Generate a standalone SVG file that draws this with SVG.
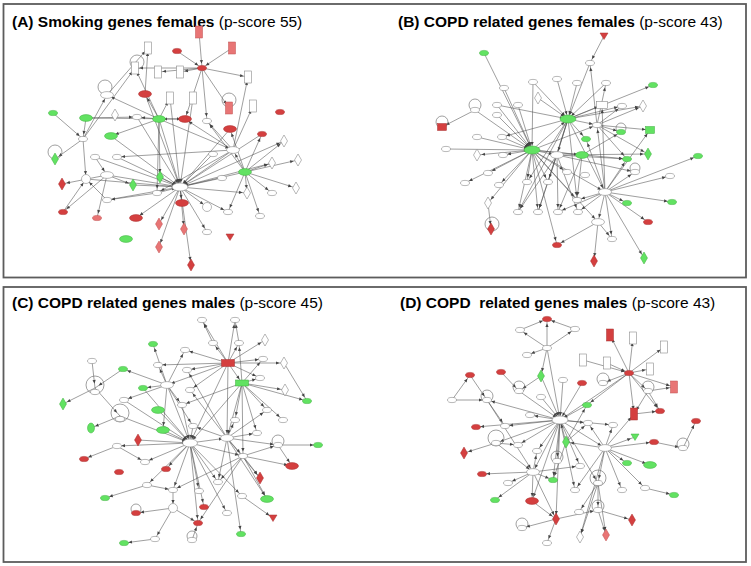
<svg xmlns="http://www.w3.org/2000/svg" xmlns:xlink="http://www.w3.org/1999/xlink" width="751" height="566" viewBox="0 0 751 566">
<style>
.frame{fill:#fff;stroke:#5c5c5c;stroke-width:1.8}
.t{font-family:"Liberation Sans",Arial,sans-serif;font-size:15.5px;fill:#000}
.b{font-weight:bold}
.w{fill:#fff;stroke:#8a8a8a;stroke-width:.6}
.g{fill:#62e262;stroke:#3fae3f;stroke-width:.5}
.r{fill:#d43f3f;stroke:#a83030;stroke-width:.5}
.p{fill:#e87575;stroke:#c05050;stroke-width:.5}
.lp{fill:none;stroke:#777;stroke-width:.7}
.e line{stroke:#4e4e4e;stroke-width:.55;marker-end:url(#ah)}
</style>
<defs>
<marker id="ah" markerUnits="userSpaceOnUse" markerWidth="4" markerHeight="4" refX="8" refY="1.6" orient="auto" overflow="visible"><path d="M0,0L3.5,1.6L0,3.2Z" fill="#444"/></marker>
<ellipse id="E" rx="6.5" ry="3.4"/>
<ellipse id="S" rx="4.5" ry="2.6"/>
<rect id="R" x="-3.5" y="-6" width="7" height="12"/>
<path id="D" d="M0,-6L3.5,0L0,6L-3.5,0Z"/>
<path id="T" d="M-4,-3H4L0,3.5Z"/>
<circle id="C" r="4.5"/>
</defs>
<rect width="751" height="566" fill="#fff"/>
<rect class="frame" x="3.5" y="4" width="742.5" height="273.5"/>
<rect class="frame" x="3.5" y="287" width="742.5" height="275"/>
<text class="t" x="12" y="27"><tspan class="b">(A) Smoking genes females</tspan> (p-score 55)</text>
<text class="t" x="398" y="27"><tspan class="b">(B) COPD related genes females</tspan> (p-score 43)</text>
<text class="t" x="12" y="308"><tspan class="b">(C) COPD related genes males</tspan> (p-score 45)</text>
<text class="t" x="400" y="308" xml:space="preserve"><tspan class="b">(D) COPD  related genes males</tspan> (p-score 43)</text>

<g id="connectors" class="e">
<!-- Panel A -->
<line x1="159" y1="119" x2="180" y2="187"/><line x1="145" y1="94" x2="180" y2="187"/><line x1="170" y1="98" x2="180" y2="187"/><line x1="193" y1="98" x2="180" y2="187"/><line x1="137" y1="117" x2="180" y2="187"/><line x1="107" y1="175" x2="180" y2="187"/><line x1="86" y1="179" x2="180" y2="187"/><line x1="133" y1="185" x2="180" y2="187"/><line x1="160" y1="177" x2="180" y2="187"/><line x1="157" y1="193" x2="180" y2="187"/><line x1="180" y1="187" x2="182" y2="203"/><line x1="180" y1="187" x2="207" y2="207"/><line x1="180" y1="187" x2="136" y2="218"/><line x1="180" y1="187" x2="159" y2="224"/><line x1="180" y1="187" x2="184" y2="229"/><line x1="180" y1="187" x2="159" y2="247"/><line x1="180" y1="187" x2="191" y2="265"/><line x1="180" y1="187" x2="207" y2="232"/><line x1="180" y1="187" x2="228" y2="212"/><line x1="245" y1="172" x2="180" y2="187"/><line x1="233" y1="150" x2="180" y2="187"/><line x1="222" y1="178" x2="180" y2="187"/><line x1="213" y1="154" x2="180" y2="187"/><line x1="117" y1="157" x2="180" y2="187"/><line x1="107" y1="200" x2="180" y2="187"/><line x1="180" y1="187" x2="284" y2="141"/><line x1="180" y1="187" x2="272" y2="163"/><line x1="180" y1="187" x2="247" y2="193"/><line x1="262" y1="134" x2="180" y2="187"/><line x1="230" y1="129" x2="180" y2="187"/><line x1="111" y1="136" x2="180" y2="187"/><line x1="95" y1="157" x2="180" y2="187"/>
<line x1="199" y1="32" x2="202" y2="68"/><line x1="232" y1="48" x2="202" y2="68"/><line x1="177" y1="51" x2="202" y2="68"/><line x1="202" y1="68" x2="135" y2="68"/><line x1="202" y1="68" x2="158" y2="72"/><line x1="202" y1="68" x2="180" y2="72"/><line x1="202" y1="68" x2="248" y2="77"/><line x1="202" y1="68" x2="229" y2="108"/><line x1="202" y1="68" x2="185" y2="119"/><line x1="202" y1="68" x2="207" y2="121"/>
<line x1="159" y1="119" x2="145" y2="94"/><line x1="159" y1="119" x2="137" y2="117"/><line x1="159" y1="119" x2="170" y2="98"/><line x1="159" y1="119" x2="135" y2="68"/><line x1="159" y1="119" x2="107" y2="95"/><line x1="185" y1="119" x2="159" y2="119"/><line x1="159" y1="119" x2="160" y2="177"/><line x1="159" y1="119" x2="157" y2="193"/><line x1="159" y1="119" x2="233" y2="150"/><line x1="159" y1="119" x2="111" y2="136"/>
<line x1="245" y1="172" x2="233" y2="150"/><line x1="245" y1="172" x2="262" y2="134"/><line x1="245" y1="172" x2="284" y2="141"/><line x1="245" y1="172" x2="272" y2="163"/><line x1="245" y1="172" x2="298" y2="160"/><line x1="245" y1="172" x2="296" y2="188"/><line x1="245" y1="172" x2="272" y2="193"/><line x1="245" y1="172" x2="260" y2="216"/><line x1="245" y1="172" x2="247" y2="193"/><line x1="245" y1="172" x2="228" y2="212"/><line x1="245" y1="172" x2="230" y2="129"/><line x1="245" y1="172" x2="207" y2="121"/>
<line x1="83" y1="139" x2="107" y2="95"/><line x1="83" y1="139" x2="135" y2="68"/><line x1="83" y1="139" x2="55" y2="159"/><line x1="83" y1="139" x2="86" y2="179"/><line x1="53" y1="113" x2="83" y2="139"/>
<line x1="107" y1="175" x2="62" y2="184"/><line x1="107" y1="175" x2="63" y2="212"/><line x1="107" y1="175" x2="97" y2="218"/><line x1="95" y1="157" x2="107" y2="175"/><line x1="107" y1="175" x2="133" y2="185"/>
<line x1="233" y1="150" x2="253" y2="106"/><line x1="233" y1="150" x2="248" y2="77"/><line x1="233" y1="150" x2="207" y2="121"/><line x1="233" y1="150" x2="185" y2="119"/><line x1="233" y1="150" x2="157" y2="193"/><line x1="233" y1="150" x2="117" y2="157"/>
<line x1="107" y1="95" x2="148" y2="48"/><line x1="145" y1="94" x2="148" y2="48"/><line x1="86" y1="118" x2="83" y2="139"/><line x1="86" y1="118" x2="137" y2="117"/><line x1="86" y1="118" x2="185" y2="119"/><line x1="157" y1="193" x2="107" y2="200"/><line x1="107" y1="200" x2="86" y2="179"/><line x1="63" y1="212" x2="86" y2="179"/>
<!-- Panel B -->
<line x1="484" y1="53" x2="532" y2="150"/><line x1="504" y1="88" x2="532" y2="150"/><line x1="533" y1="82" x2="532" y2="150"/><line x1="497" y1="105" x2="532" y2="150"/><line x1="518" y1="105" x2="532" y2="150"/><line x1="475" y1="110" x2="532" y2="150"/><line x1="497" y1="115" x2="532" y2="150"/><line x1="502" y1="137" x2="532" y2="150"/><line x1="477" y1="137" x2="532" y2="150"/><line x1="446" y1="149" x2="532" y2="150"/><line x1="532" y1="150" x2="477" y2="155"/><line x1="532" y1="150" x2="503" y2="155"/><line x1="532" y1="150" x2="465" y2="183"/><line x1="532" y1="150" x2="488" y2="173"/><line x1="532" y1="150" x2="499" y2="185"/><line x1="532" y1="150" x2="488" y2="203"/><line x1="532" y1="150" x2="518" y2="212"/><line x1="532" y1="150" x2="538" y2="212"/><line x1="532" y1="150" x2="527" y2="182"/><line x1="532" y1="150" x2="548" y2="182"/><line x1="532" y1="150" x2="567" y2="172"/><line x1="532" y1="150" x2="557" y2="155"/><line x1="532" y1="150" x2="582" y2="155"/><line x1="532" y1="150" x2="605" y2="192"/><line x1="532" y1="150" x2="598" y2="222"/><line x1="532" y1="150" x2="577" y2="200"/><line x1="532" y1="150" x2="557" y2="245"/><line x1="532" y1="150" x2="568" y2="119"/><line x1="532" y1="150" x2="597" y2="125"/><line x1="532" y1="150" x2="627" y2="159"/>
<line x1="533" y1="82" x2="568" y2="119"/><line x1="557" y1="79" x2="568" y2="119"/><line x1="577" y1="83" x2="568" y2="119"/><line x1="606" y1="83" x2="568" y2="119"/><line x1="590" y1="63" x2="568" y2="119"/><line x1="538" y1="98" x2="568" y2="119"/><line x1="568" y1="119" x2="602" y2="105"/><line x1="568" y1="119" x2="622" y2="106"/><line x1="568" y1="119" x2="643" y2="106"/><line x1="568" y1="119" x2="653" y2="85"/><line x1="568" y1="119" x2="597" y2="125"/><line x1="568" y1="119" x2="586" y2="139"/><line x1="568" y1="119" x2="557" y2="155"/><line x1="568" y1="119" x2="548" y2="182"/><line x1="568" y1="119" x2="538" y2="212"/><line x1="568" y1="119" x2="577" y2="200"/><line x1="568" y1="119" x2="605" y2="192"/><line x1="568" y1="119" x2="518" y2="212"/><line x1="568" y1="119" x2="527" y2="182"/><line x1="568" y1="119" x2="502" y2="137"/><line x1="497" y1="105" x2="568" y2="119"/>
<line x1="605" y1="192" x2="698" y2="156"/><line x1="605" y1="192" x2="670" y2="176"/><line x1="605" y1="192" x2="672" y2="202"/><line x1="605" y1="192" x2="627" y2="203"/><line x1="605" y1="192" x2="648" y2="222"/><line x1="605" y1="192" x2="612" y2="239"/><line x1="605" y1="192" x2="644" y2="258"/><line x1="605" y1="192" x2="598" y2="222"/><line x1="605" y1="192" x2="577" y2="200"/><line x1="605" y1="192" x2="558" y2="212"/><line x1="605" y1="192" x2="578" y2="212"/><line x1="605" y1="192" x2="597" y2="125"/><line x1="605" y1="192" x2="602" y2="105"/><line x1="605" y1="192" x2="586" y2="139"/><line x1="605" y1="192" x2="635" y2="172"/><line x1="605" y1="192" x2="627" y2="159"/><line x1="605" y1="192" x2="650" y2="130"/>
<line x1="597" y1="125" x2="621" y2="132"/><line x1="597" y1="125" x2="650" y2="130"/><line x1="597" y1="125" x2="643" y2="106"/><line x1="597" y1="125" x2="622" y2="106"/><line x1="597" y1="125" x2="627" y2="159"/><line x1="597" y1="125" x2="648" y2="154"/><line x1="597" y1="125" x2="606" y2="83"/><line x1="597" y1="125" x2="590" y2="63"/>
<line x1="604" y1="36" x2="590" y2="63"/><line x1="475" y1="110" x2="442" y2="127"/><line x1="488" y1="203" x2="491" y2="229"/><line x1="598" y1="222" x2="594" y2="261"/><line x1="598" y1="222" x2="557" y2="245"/><line x1="598" y1="222" x2="612" y2="239"/>
<line x1="557" y1="155" x2="518" y2="212"/><line x1="557" y1="155" x2="538" y2="212"/><line x1="557" y1="155" x2="558" y2="212"/><line x1="557" y1="155" x2="578" y2="212"/><line x1="557" y1="155" x2="627" y2="159"/><line x1="557" y1="155" x2="648" y2="154"/><line x1="557" y1="155" x2="635" y2="172"/><line x1="582" y1="155" x2="621" y2="132"/><line x1="582" y1="155" x2="577" y2="200"/><line x1="582" y1="155" x2="558" y2="212"/>
<!-- Panel C -->
<line x1="228" y1="363" x2="202" y2="320"/><line x1="228" y1="363" x2="235" y2="320"/><line x1="228" y1="363" x2="213" y2="343"/><line x1="228" y1="363" x2="239" y2="343"/><line x1="228" y1="363" x2="263" y2="359"/><line x1="228" y1="363" x2="265" y2="340"/><line x1="228" y1="363" x2="284" y2="363"/><line x1="228" y1="363" x2="185" y2="350"/><line x1="228" y1="363" x2="187" y2="370"/><line x1="228" y1="363" x2="190" y2="390"/><line x1="228" y1="363" x2="242" y2="383"/><line x1="228" y1="363" x2="227" y2="438"/><line x1="228" y1="363" x2="190" y2="443"/><line x1="228" y1="363" x2="167" y2="385"/><line x1="228" y1="363" x2="260" y2="378"/><line x1="228" y1="363" x2="158" y2="365"/>
<line x1="242" y1="383" x2="260" y2="378"/><line x1="242" y1="383" x2="285" y2="390"/><line x1="242" y1="383" x2="307" y2="401"/><line x1="242" y1="383" x2="267" y2="410"/><line x1="242" y1="383" x2="283" y2="420"/><line x1="242" y1="383" x2="257" y2="433"/><line x1="242" y1="383" x2="235" y2="420"/><line x1="242" y1="383" x2="227" y2="438"/><line x1="242" y1="383" x2="190" y2="443"/><line x1="242" y1="383" x2="182" y2="405"/><line x1="242" y1="383" x2="263" y2="359"/><line x1="242" y1="383" x2="239" y2="343"/><line x1="242" y1="383" x2="243" y2="456"/>
<line x1="158" y1="410" x2="190" y2="443"/><line x1="163" y1="430" x2="190" y2="443"/><line x1="143" y1="388" x2="190" y2="443"/><line x1="167" y1="385" x2="190" y2="443"/><line x1="124" y1="400" x2="190" y2="443"/><line x1="190" y1="443" x2="117" y2="446"/><line x1="190" y1="443" x2="145" y2="462"/><line x1="190" y1="443" x2="147" y2="485"/><line x1="190" y1="443" x2="166" y2="469"/><line x1="190" y1="443" x2="173" y2="490"/><line x1="190" y1="443" x2="199" y2="491"/><line x1="190" y1="443" x2="204" y2="507"/><line x1="190" y1="443" x2="198" y2="523"/><line x1="190" y1="443" x2="227" y2="513"/><line x1="190" y1="443" x2="218" y2="482"/><line x1="190" y1="443" x2="242" y2="496"/><line x1="190" y1="443" x2="227" y2="438"/><line x1="190" y1="443" x2="243" y2="456"/><line x1="120" y1="416" x2="190" y2="443"/><line x1="138" y1="440" x2="190" y2="443"/><line x1="182" y1="405" x2="190" y2="443"/><line x1="193" y1="426" x2="190" y2="443"/>
<line x1="227" y1="438" x2="257" y2="433"/><line x1="227" y1="438" x2="267" y2="410"/><line x1="227" y1="438" x2="278" y2="445"/><line x1="227" y1="438" x2="235" y2="420"/><line x1="227" y1="438" x2="243" y2="456"/><line x1="227" y1="438" x2="193" y2="426"/><line x1="227" y1="438" x2="218" y2="482"/><line x1="227" y1="438" x2="241" y2="534"/><line x1="227" y1="438" x2="267" y2="499"/><line x1="227" y1="438" x2="260" y2="478"/><line x1="227" y1="438" x2="187" y2="370"/><line x1="227" y1="438" x2="190" y2="390"/>
<line x1="243" y1="456" x2="278" y2="445"/><line x1="243" y1="456" x2="292" y2="466"/><line x1="243" y1="456" x2="260" y2="478"/><line x1="243" y1="456" x2="267" y2="499"/><line x1="243" y1="456" x2="218" y2="482"/><line x1="243" y1="456" x2="198" y2="523"/><line x1="243" y1="456" x2="173" y2="490"/>
<line x1="167" y1="385" x2="143" y2="388"/><line x1="167" y1="385" x2="123" y2="369"/><line x1="167" y1="385" x2="153" y2="344"/><line x1="167" y1="385" x2="158" y2="365"/><line x1="167" y1="385" x2="124" y2="400"/><line x1="167" y1="385" x2="185" y2="350"/><line x1="167" y1="385" x2="182" y2="405"/><line x1="167" y1="385" x2="193" y2="426"/><line x1="167" y1="385" x2="163" y2="430"/>
<line x1="92" y1="361" x2="95" y2="388"/><line x1="123" y1="369" x2="95" y2="388"/><line x1="95" y1="388" x2="63" y2="404"/><line x1="95" y1="388" x2="120" y2="416"/><line x1="120" y1="416" x2="91" y2="428"/><line x1="117" y1="446" x2="84" y2="459"/><line x1="117" y1="446" x2="145" y2="462"/><line x1="147" y1="485" x2="105" y2="498"/><line x1="147" y1="485" x2="173" y2="490"/><line x1="173" y1="508" x2="136" y2="513"/><line x1="173" y1="508" x2="155" y2="539"/><line x1="173" y1="508" x2="198" y2="523"/><line x1="173" y1="490" x2="173" y2="508"/><line x1="192" y1="540" x2="198" y2="523"/><line x1="155" y1="539" x2="124" y2="543"/><line x1="278" y1="445" x2="318" y2="445"/><line x1="278" y1="445" x2="292" y2="466"/><line x1="242" y1="496" x2="273" y2="518"/><line x1="213" y1="343" x2="202" y2="320"/><line x1="239" y1="343" x2="235" y2="320"/><line x1="284" y1="363" x2="307" y2="401"/>
<!-- Panel D -->
<line x1="587" y1="405" x2="560" y2="420"/><line x1="566" y1="442" x2="560" y2="420"/><line x1="541" y1="397" x2="560" y2="420"/><line x1="519" y1="391" x2="560" y2="420"/><line x1="563" y1="380" x2="560" y2="420"/><line x1="582" y1="383" x2="560" y2="420"/><line x1="560" y1="420" x2="530" y2="415"/><line x1="560" y1="420" x2="505" y2="426"/><line x1="560" y1="420" x2="487" y2="400"/><line x1="560" y1="420" x2="476" y2="427"/><line x1="560" y1="420" x2="496" y2="443"/><line x1="560" y1="420" x2="518" y2="445"/><line x1="560" y1="420" x2="537" y2="451"/><line x1="560" y1="420" x2="557" y2="461"/><line x1="560" y1="420" x2="580" y2="466"/><line x1="560" y1="420" x2="588" y2="423"/><line x1="560" y1="420" x2="613" y2="425"/><line x1="560" y1="420" x2="605" y2="448"/><line x1="560" y1="420" x2="533" y2="472"/><line x1="560" y1="420" x2="553" y2="480"/><line x1="560" y1="420" x2="532" y2="501"/><line x1="560" y1="420" x2="556" y2="519"/><line x1="541" y1="376" x2="560" y2="420"/><line x1="547" y1="348" x2="560" y2="420"/><line x1="560" y1="420" x2="575" y2="490"/><line x1="560" y1="420" x2="598" y2="483"/><line x1="629" y1="373" x2="560" y2="420"/>
<line x1="629" y1="373" x2="610" y2="335"/><line x1="629" y1="373" x2="633" y2="338"/><line x1="629" y1="373" x2="664" y2="347"/><line x1="583" y1="360" x2="629" y2="373"/><line x1="607" y1="363" x2="629" y2="373"/><line x1="629" y1="373" x2="650" y2="369"/><line x1="629" y1="373" x2="674" y2="387"/><line x1="629" y1="373" x2="648" y2="391"/><line x1="629" y1="373" x2="634" y2="414"/><line x1="629" y1="373" x2="660" y2="411"/><line x1="629" y1="373" x2="587" y2="405"/><line x1="629" y1="373" x2="603" y2="383"/>
<line x1="547" y1="348" x2="547" y2="319"/><line x1="547" y1="348" x2="520" y2="330"/><line x1="547" y1="348" x2="575" y2="329"/><line x1="547" y1="348" x2="527" y2="355"/><line x1="547" y1="348" x2="541" y2="376"/><line x1="520" y1="330" x2="547" y2="319"/><line x1="575" y1="329" x2="547" y2="319"/><line x1="541" y1="376" x2="519" y2="391"/><line x1="501" y1="372" x2="519" y2="391"/><line x1="452" y1="400" x2="470" y2="375"/><line x1="452" y1="400" x2="487" y2="400"/><line x1="470" y1="375" x2="487" y2="400"/><line x1="487" y1="400" x2="505" y2="426"/><line x1="487" y1="400" x2="533" y2="472"/><line x1="496" y1="443" x2="518" y2="445"/><line x1="496" y1="443" x2="533" y2="472"/><line x1="496" y1="443" x2="464" y2="453"/>
<line x1="533" y1="472" x2="482" y2="474"/><line x1="533" y1="472" x2="508" y2="483"/><line x1="533" y1="472" x2="495" y2="500"/><line x1="533" y1="472" x2="532" y2="501"/><line x1="533" y1="472" x2="556" y2="519"/><line x1="533" y1="472" x2="580" y2="466"/><line x1="533" y1="472" x2="553" y2="480"/><line x1="533" y1="472" x2="537" y2="451"/>
<line x1="605" y1="448" x2="627" y2="463"/><line x1="605" y1="448" x2="650" y2="465"/><line x1="605" y1="448" x2="635" y2="437"/><line x1="605" y1="448" x2="654" y2="442"/><line x1="605" y1="448" x2="598" y2="483"/><line x1="605" y1="448" x2="622" y2="490"/><line x1="605" y1="448" x2="645" y2="488"/><line x1="605" y1="448" x2="580" y2="537"/><line x1="605" y1="448" x2="575" y2="490"/><line x1="605" y1="448" x2="566" y2="442"/><line x1="605" y1="448" x2="613" y2="425"/><line x1="605" y1="448" x2="588" y2="423"/><line x1="605" y1="448" x2="634" y2="414"/>
<line x1="654" y1="442" x2="683" y2="448"/><line x1="683" y1="448" x2="696" y2="421"/><line x1="645" y1="488" x2="674" y2="495"/><line x1="598" y1="483" x2="579" y2="512"/><line x1="598" y1="483" x2="598" y2="510"/><line x1="598" y1="483" x2="606" y2="535"/><line x1="598" y1="483" x2="580" y2="537"/><line x1="556" y1="519" x2="522" y2="528"/><line x1="556" y1="519" x2="598" y2="510"/><line x1="556" y1="519" x2="547" y2="543"/><line x1="532" y1="501" x2="556" y2="519"/><line x1="598" y1="510" x2="632" y2="520"/><line x1="598" y1="510" x2="606" y2="535"/><line x1="648" y1="391" x2="674" y2="387"/><line x1="648" y1="391" x2="660" y2="411"/><line x1="648" y1="391" x2="634" y2="414"/><line x1="634" y1="414" x2="660" y2="411"/><line x1="566" y1="442" x2="587" y2="405"/><line x1="566" y1="442" x2="588" y2="423"/><line x1="566" y1="442" x2="553" y2="480"/>
</g>

<!-- Panel A nodes -->
<g id="a01"><ellipse class="w" cx="180" cy="187" rx="8" ry="4"/></g>
<g id="a02"><use href="#E" x="159" y="119" class="g"/></g>
<g id="a03"><use href="#E" x="245" y="172" class="g"/></g>
<g id="a04"><use href="#S" x="202" y="68" class="r"/></g>
<g id="a05"><use href="#R" x="199" y="32" class="p"/></g>
<g id="a06"><use href="#R" x="232" y="48" class="p"/></g>
<g id="a07"><use href="#S" x="177" y="51" class="r"/></g>
<g id="a08"><use href="#R" x="148" y="48" class="w"/></g>
<g id="a09"><circle class="lp" cx="137" cy="62" r="7"/><use href="#R" x="135" y="68" class="w"/></g>
<g id="a10"><use href="#R" x="158" y="72" class="w"/></g>
<g id="a11"><use href="#R" x="180" y="72" class="w"/></g>
<g id="a12"><use href="#R" x="248" y="77" class="w"/></g>
<g id="a13"><circle class="lp" cx="105" cy="87" r="7"/><use href="#E" x="107" y="95" class="w"/></g>
<g id="a14"><use href="#E" x="145" y="94" class="r"/></g>
<g id="a15"><use href="#R" x="170" y="98" class="w"/></g>
<g id="a16"><use href="#R" x="193" y="98" class="w"/></g>
<g id="a17"><circle class="lp" cx="229" cy="100" r="7"/><use href="#R" x="229" y="108" class="p"/></g>
<g id="a18"><use href="#R" x="253" y="106" class="w"/></g>
<g id="a19"><use href="#S" x="280" y="112" class="r"/></g>
<g id="a20"><use href="#S" x="53" y="113" class="g"/></g>
<g id="a21"><use href="#E" x="86" y="118" class="g"/></g>
<g id="a22"><use href="#D" x="115" y="115" class="w"/></g>
<g id="a23"><use href="#S" x="137" y="117" class="w"/></g>
<g id="a24"><use href="#E" x="185" y="119" class="r"/></g>
<g id="a25"><use href="#S" x="207" y="121" class="w"/></g>
<g id="a26"><use href="#E" x="230" y="129" class="r"/></g>
<g id="a27"><use href="#S" x="262" y="134" class="r"/></g>
<g id="a28"><use href="#E" x="111" y="136" class="g"/></g>
<g id="a29"><use href="#S" x="83" y="139" class="w"/></g>
<g id="a30"><use href="#E" x="233" y="150" class="w"/></g>
<g id="a31"><use href="#D" x="284" y="141" class="w"/></g>
<g id="a32"><circle class="lp" cx="55" cy="152" r="7"/><use href="#D" x="55" y="159" class="g"/></g>
<g id="a33"><use href="#D" x="62" y="184" class="r"/></g>
<g id="a34"><use href="#S" x="63" y="212" class="r"/></g>
<g id="a35"><use href="#C" x="86" y="179" class="w"/></g>
<g id="a36"><use href="#E" x="107" y="175" class="w"/></g>
<g id="a37"><use href="#D" x="133" y="185" class="g"/></g>
<g id="a38"><use href="#D" x="160" y="177" class="g"/></g>
<g id="a39"><use href="#S" x="157" y="193" class="w"/></g>
<g id="a40"><use href="#E" x="182" y="203" class="r"/></g>
<g id="a41"><use href="#C" x="207" y="207" class="w"/></g>
<g id="a42"><use href="#E" x="126" y="239" class="g"/></g>
<g id="a43"><use href="#E" x="136" y="218" class="r"/></g>
<g id="a44"><use href="#D" x="159" y="224" class="p"/></g>
<g id="a45"><use href="#D" x="184" y="229" class="p"/></g>
<g id="a46"><use href="#D" x="159" y="247" class="p"/></g>
<g id="a47"><use href="#D" x="191" y="265" class="r"/></g>
<g id="a48"><use href="#T" x="230" y="237" class="r"/></g>
<g id="a49"><use href="#S" x="207" y="232" class="w"/></g>
<g id="a50"><use href="#S" x="97" y="218" class="p"/></g>
<g id="a51"><use href="#S" x="228" y="212" class="w"/></g>
<g id="a52"><use href="#S" x="260" y="216" class="w"/></g>
<g id="a53"><use href="#S" x="272" y="193" class="w"/></g>
<g id="a54"><use href="#D" x="247" y="193" class="w"/></g>
<g id="a55"><use href="#D" x="272" y="163" class="w"/></g>
<g id="a56"><use href="#D" x="298" y="160" class="w"/></g>
<g id="a57"><use href="#D" x="296" y="188" class="w"/></g>
<g id="a58"><use href="#S" x="107" y="200" class="w"/></g>
<g id="a59"><use href="#S" x="95" y="157" class="w"/></g>
<g id="a60"><use href="#S" x="117" y="157" class="w"/></g>
<g id="a61"><use href="#S" x="222" y="178" class="w"/></g>
<g id="a62"><use href="#S" x="213" y="154" class="w"/></g>

<!-- Panel B nodes -->
<g id="b01"><ellipse class="g" cx="532" cy="150" rx="8" ry="4"/></g>
<g id="b02"><ellipse class="g" cx="568" cy="119" rx="8" ry="4"/></g>
<g id="b03"><use href="#E" x="582" y="155" class="g"/></g>
<g id="b04"><use href="#E" x="557" y="155" class="w"/></g>
<g id="b05"><use href="#E" x="605" y="192" class="w"/></g>
<g id="b06"><use href="#S" x="597" y="125" class="w"/></g>
<g id="b07"><use href="#S" x="577" y="200" class="w"/></g>
<g id="b08"><use href="#E" x="598" y="222" class="w"/></g>
<g id="b09"><use href="#T" x="604" y="36" class="r"/></g>
<g id="b10"><use href="#S" x="590" y="63" class="w"/></g>
<g id="b11"><use href="#S" x="484" y="53" class="g"/></g>
<g id="b12"><use href="#S" x="653" y="85" class="g"/></g>
<g id="b13"><use href="#S" x="533" y="82" class="w"/></g>
<g id="b14"><use href="#S" x="557" y="79" class="w"/></g>
<g id="b15"><use href="#S" x="577" y="83" class="w"/></g>
<g id="b16"><use href="#S" x="606" y="83" class="w"/></g>
<g id="b17"><use href="#S" x="504" y="88" class="w"/></g>
<g id="b18"><use href="#D" x="538" y="98" class="w"/></g>
<g id="b19"><circle class="lp" cx="475" cy="105" r="6"/><use href="#S" x="475" y="110" class="w"/></g>
<g id="b20"><circle class="lp" cx="442" cy="122" r="6"/><rect class="r" x="437.5" y="123.5" width="9" height="7"/></g>
<g id="b21"><use href="#S" x="497" y="105" class="w"/></g>
<g id="b22"><use href="#S" x="518" y="105" class="w"/></g>
<g id="b23"><rect class="w" x="596.5" y="101.5" width="11" height="7"/></g>
<g id="b24"><use href="#S" x="622" y="106" class="w"/></g>
<g id="b25"><use href="#D" x="643" y="106" class="w"/></g>
<g id="b26"><use href="#S" x="497" y="115" class="w"/></g>
<g id="b27"><use href="#S" x="502" y="137" class="w"/></g>
<g id="b28"><use href="#S" x="477" y="137" class="w"/></g>
<g id="b29"><use href="#S" x="446" y="149" class="w"/></g>
<g id="b30"><use href="#D" x="477" y="155" class="w"/></g>
<g id="b31"><use href="#S" x="503" y="155" class="w"/></g>
<g id="b32"><use href="#S" x="586" y="139" class="g"/></g>
<g id="b33"><circle class="lp" cx="621" cy="128" r="5"/><use href="#S" x="621" y="132" class="g"/></g>
<g id="b34"><rect class="g" x="645.5" y="126.5" width="9" height="7"/></g>
<g id="b35"><use href="#D" x="648" y="154" class="g"/></g>
<g id="b36"><use href="#S" x="627" y="159" class="g"/></g>
<g id="b37"><use href="#S" x="698" y="156" class="g"/></g>
<g id="b38"><circle class="lp" cx="635" cy="168" r="5"/><use href="#S" x="635" y="172" class="w"/></g>
<g id="b39"><use href="#S" x="670" y="176" class="w"/></g>
<g id="b40"><use href="#S" x="627" y="203" class="g"/></g>
<g id="b41"><use href="#S" x="672" y="202" class="g"/></g>
<g id="b42"><use href="#S" x="648" y="222" class="r"/></g>
<g id="b43"><use href="#D" x="644" y="258" class="g"/></g>
<g id="b44"><use href="#D" x="594" y="261" class="r"/></g>
<g id="b45"><use href="#S" x="557" y="245" class="r"/></g>
<g id="b46"><use href="#S" x="612" y="239" class="w"/></g>
<g id="b47"><circle class="lp" cx="492" cy="224" r="7"/><use href="#D" x="491" y="229" class="r"/></g>
<g id="b48"><use href="#D" x="488" y="203" class="w"/></g>
<g id="b49"><use href="#S" x="465" y="183" class="w"/></g>
<g id="b50"><use href="#S" x="488" y="173" class="w"/></g>
<g id="b51"><use href="#S" x="499" y="185" class="w"/></g>
<g id="b52"><use href="#S" x="518" y="212" class="w"/></g>
<g id="b53"><use href="#S" x="538" y="212" class="w"/></g>
<g id="b54"><use href="#S" x="558" y="212" class="w"/></g>
<g id="b55"><use href="#S" x="578" y="212" class="w"/></g>
<g id="b56"><use href="#S" x="527" y="182" class="w"/></g>
<g id="b57"><use href="#S" x="548" y="182" class="w"/></g>
<g id="b58"><use href="#S" x="567" y="172" class="w"/></g>
<g id="b59"><use href="#S" x="585" y="175" class="w"/></g>

<!-- Panel C nodes -->
<g id="c01"><rect class="r" x="221.5" y="359.5" width="13" height="7"/></g>
<g id="c02"><rect class="g" x="235.5" y="380" width="13" height="6"/></g>
<g id="c03"><ellipse class="w" cx="190" cy="443" rx="7.5" ry="4"/></g>
<g id="c04"><use href="#E" x="227" y="438" class="w"/></g>
<g id="c05"><use href="#S" x="243" y="456" class="w"/></g>
<g id="c06"><use href="#E" x="167" y="385" class="w"/></g>
<g id="c07"><use href="#E" x="158" y="410" class="g"/></g>
<g id="c08"><use href="#E" x="163" y="430" class="g"/></g>
<g id="c09"><use href="#S" x="123" y="369" class="g"/></g>
<g id="c10"><use href="#S" x="143" y="388" class="g"/></g>
<g id="c11"><use href="#S" x="153" y="344" class="g"/></g>
<g id="c12"><circle class="lp" cx="95" cy="385" r="9"/><use href="#S" x="95" y="392" class="w"/></g>
<g id="c13"><circle class="lp" cx="120" cy="413" r="9"/><use href="#S" x="120" y="419" class="w"/></g>
<g id="c14"><use href="#S" x="92" y="361" class="w"/></g>
<g id="c15"><use href="#D" x="63" y="404" class="g"/></g>
<g id="c16"><ellipse class="g" cx="91" cy="428" rx="3.5" ry="5"/></g>
<g id="c17"><use href="#D" x="138" y="440" class="r"/></g>
<g id="c18"><use href="#S" x="84" y="459" class="r"/></g>
<g id="c19"><use href="#S" x="119" y="472" class="r"/></g>
<g id="c20"><use href="#S" x="166" y="469" class="r"/></g>
<g id="c21"><use href="#S" x="117" y="446" class="w"/></g>
<g id="c22"><use href="#S" x="145" y="462" class="w"/></g>
<g id="c23"><use href="#S" x="147" y="485" class="w"/></g>
<g id="c24"><use href="#S" x="105" y="498" class="g"/></g>
<g id="c25"><use href="#S" x="173" y="490" class="w"/></g>
<g id="c26"><use href="#C" x="173" y="508" class="w"/></g>
<g id="c27"><circle class="lp" cx="136" cy="509" r="5"/><use href="#S" x="136" y="513" class="r"/></g>
<g id="c28"><use href="#S" x="198" y="523" class="r"/></g>
<g id="c29"><use href="#S" x="204" y="507" class="r"/></g>
<g id="c30"><use href="#S" x="199" y="491" class="w"/></g>
<g id="c31"><circle class="lp" cx="192" cy="536" r="5"/><use href="#S" x="192" y="540" class="w"/></g>
<g id="c32"><use href="#S" x="124" y="543" class="g"/></g>
<g id="c33"><use href="#S" x="155" y="539" class="w"/></g>
<g id="c34"><use href="#S" x="241" y="534" class="g"/></g>
<g id="c35"><use href="#S" x="227" y="513" class="w"/></g>
<g id="c36"><use href="#T" x="273" y="518" class="r"/></g>
<g id="c37"><use href="#E" x="267" y="499" class="g"/></g>
<g id="c38"><use href="#D" x="260" y="478" class="r"/></g>
<g id="c39"><use href="#E" x="292" y="466" class="r"/></g>
<g id="c40"><use href="#S" x="318" y="445" class="g"/></g>
<g id="c41"><circle class="lp" cx="278" cy="441" r="6"/><use href="#S" x="278" y="445" class="w"/></g>
<g id="c42"><use href="#S" x="242" y="496" class="w"/></g>
<g id="c43"><use href="#S" x="218" y="482" class="w"/></g>
<g id="c44"><use href="#S" x="307" y="401" class="g"/></g>
<g id="c45"><use href="#D" x="285" y="390" class="w"/></g>
<g id="c46"><use href="#D" x="284" y="363" class="w"/></g>
<g id="c47"><use href="#S" x="263" y="359" class="w"/></g>
<g id="c48"><use href="#D" x="265" y="340" class="w"/></g>
<g id="c49"><use href="#S" x="260" y="378" class="w"/></g>
<g id="c50"><use href="#S" x="235" y="320" class="w"/></g>
<g id="c51"><use href="#S" x="202" y="320" class="w"/></g>
<g id="c52"><use href="#S" x="213" y="343" class="w"/></g>
<g id="c53"><use href="#S" x="239" y="343" class="w"/></g>
<g id="c54"><use href="#S" x="185" y="350" class="w"/></g>
<g id="c55"><use href="#S" x="187" y="370" class="w"/></g>
<g id="c56"><use href="#S" x="190" y="390" class="w"/></g>
<g id="c57"><use href="#S" x="158" y="365" class="w"/></g>
<g id="c58"><use href="#S" x="124" y="400" class="w"/></g>
<g id="c59"><use href="#S" x="193" y="426" class="w"/></g>
<g id="c60"><use href="#S" x="182" y="405" class="w"/></g>
<g id="c61"><use href="#S" x="267" y="410" class="w"/></g>
<g id="c62"><use href="#S" x="283" y="420" class="w"/></g>
<g id="c63"><use href="#S" x="257" y="433" class="w"/></g>
<g id="c64"><use href="#S" x="235" y="420" class="w"/></g>

<!-- Panel D nodes -->
<g id="d01"><ellipse class="w" cx="560" cy="420" rx="8" ry="4"/></g>
<g id="d02"><use href="#D" x="566" y="442" class="g"/></g>
<g id="d03"><use href="#S" x="587" y="405" class="g"/></g>
<g id="d04"><use href="#E" x="605" y="448" class="w"/></g>
<g id="d05"><use href="#E" x="533" y="472" class="w"/></g>
<g id="d06"><circle class="lp" cx="598" cy="478" r="8"/><use href="#S" x="598" y="483" class="w"/></g>
<g id="d07"><use href="#S" x="629" y="373" class="r"/></g>
<g id="d08"><use href="#R" x="610" y="335" class="r"/></g>
<g id="d09"><use href="#R" x="674" y="387" class="p"/></g>
<g id="d10"><use href="#R" x="634" y="414" class="r"/></g>
<g id="d11"><use href="#S" x="660" y="411" class="r"/></g>
<g id="d12"><circle class="lp" cx="648" cy="387" r="6"/><use href="#S" x="648" y="391" class="w"/></g>
<g id="d13"><use href="#R" x="633" y="338" class="w"/></g>
<g id="d14"><use href="#R" x="664" y="347" class="w"/></g>
<g id="d15"><use href="#R" x="583" y="360" class="w"/></g>
<g id="d16"><use href="#R" x="607" y="363" class="w"/></g>
<g id="d17"><use href="#R" x="650" y="369" class="w"/></g>
<g id="d18"><use href="#S" x="547" y="319" class="r"/></g>
<g id="d19"><use href="#S" x="520" y="330" class="w"/></g>
<g id="d20"><use href="#S" x="575" y="329" class="w"/></g>
<g id="d21"><use href="#S" x="547" y="348" class="w"/></g>
<g id="d22"><use href="#S" x="527" y="355" class="w"/></g>
<g id="d23"><use href="#D" x="541" y="376" class="g"/></g>
<g id="d24"><use href="#S" x="501" y="372" class="r"/></g>
<g id="d25"><use href="#S" x="470" y="375" class="r"/></g>
<g id="d26"><circle class="lp" cx="519" cy="387" r="6"/><use href="#S" x="519" y="391" class="w"/></g>
<g id="d27"><use href="#S" x="541" y="397" class="w"/></g>
<g id="d28"><use href="#S" x="563" y="380" class="w"/></g>
<g id="d29"><use href="#S" x="582" y="383" class="r"/></g>
<g id="d30"><circle class="lp" cx="603" cy="379" r="6"/><use href="#S" x="603" y="383" class="w"/></g>
<g id="d31"><use href="#S" x="452" y="400" class="w"/></g>
<g id="d32"><circle class="lp" cx="487" cy="396" r="6"/><use href="#S" x="487" y="400" class="w"/></g>
<g id="d33"><use href="#S" x="530" y="415" class="w"/></g>
<g id="d34"><use href="#S" x="505" y="426" class="w"/></g>
<g id="d35"><use href="#S" x="476" y="427" class="r"/></g>
<g id="d36"><circle class="lp" cx="496" cy="438" r="8"/><use href="#S" x="496" y="443" class="w"/></g>
<g id="d37"><use href="#S" x="518" y="445" class="w"/></g>
<g id="d38"><use href="#S" x="537" y="451" class="w"/></g>
<g id="d39"><circle class="lp" cx="557" cy="457" r="6"/><use href="#S" x="557" y="461" class="w"/></g>
<g id="d40"><use href="#S" x="580" y="466" class="w"/></g>
<g id="d41"><use href="#S" x="588" y="423" class="w"/></g>
<g id="d42"><use href="#S" x="613" y="425" class="w"/></g>
<g id="d43"><use href="#D" x="464" y="453" class="r"/></g>
<g id="d44"><use href="#S" x="482" y="474" class="r"/></g>
<g id="d45"><use href="#S" x="508" y="483" class="w"/></g>
<g id="d46"><use href="#S" x="553" y="480" class="g"/></g>
<g id="d47"><use href="#S" x="495" y="500" class="g"/></g>
<g id="d48"><use href="#E" x="532" y="501" class="r"/></g>
<g id="d49"><use href="#S" x="575" y="490" class="w"/></g>
<g id="d50"><use href="#S" x="579" y="512" class="w"/></g>
<g id="d51"><use href="#D" x="556" y="519" class="r"/></g>
<g id="d52"><circle class="lp" cx="522" cy="524" r="6"/><use href="#S" x="522" y="528" class="w"/></g>
<g id="d53"><use href="#S" x="547" y="543" class="w"/></g>
<g id="d54"><use href="#D" x="580" y="537" class="w"/></g>
<g id="d55"><use href="#D" x="606" y="535" class="p"/></g>
<g id="d56"><circle class="lp" cx="598" cy="506" r="6"/><use href="#S" x="598" y="510" class="w"/></g>
<g id="d57"><use href="#D" x="632" y="520" class="r"/></g>
<g id="d58"><use href="#S" x="622" y="490" class="w"/></g>
<g id="d59"><use href="#S" x="645" y="488" class="w"/></g>
<g id="d60"><use href="#S" x="674" y="495" class="g"/></g>
<g id="d61"><use href="#S" x="627" y="463" class="g"/></g>
<g id="d62"><use href="#E" x="650" y="465" class="g"/></g>
<g id="d63"><use href="#T" x="635" y="437" class="g"/></g>
<g id="d64"><use href="#S" x="654" y="442" class="r"/></g>
<g id="d65"><circle class="lp" cx="683" cy="444" r="6"/><use href="#S" x="683" y="448" class="w"/></g>
<g id="d66"><use href="#S" x="696" y="421" class="r"/></g>
</svg>
